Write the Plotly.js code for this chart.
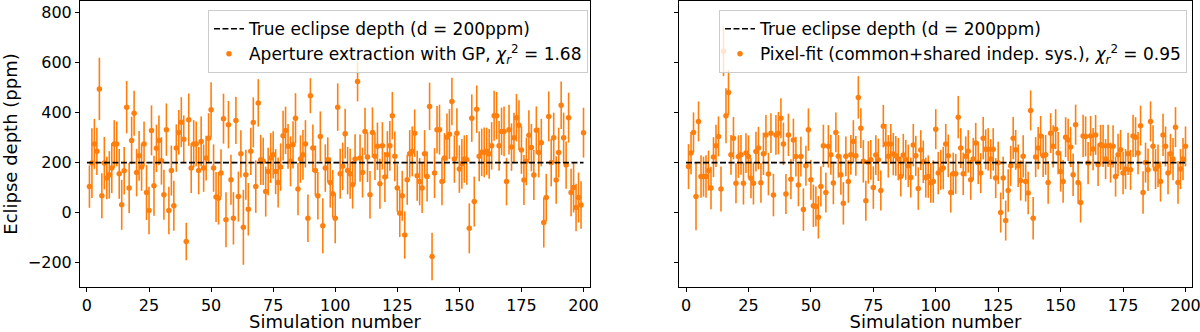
<!DOCTYPE html>
<html>
<head>
<meta charset="utf-8">
<script src="https://cdn.plot.ly/plotly-3.0.1.min.js"></script>
<style>
  html, body { margin: 0; padding: 0; background: #fff; }
  #plot { width: 1200px; height: 332px; }
</style>
</head>
<body>
<div id="plot"></div>
<script>
// depth values (ppm), simulation 1..200
var trueDepth = 200;

var apertureDepth = [
  104, 198, 275, 245, 495, 67, 198, 138, 151, 178,
  275, 275, 155, 31, 167, 422, 98, 289, 398, 160,
  227, 182, 275, 80, 8, 329, 107, 257, 289, 207,
  71, 332, 8, 168, 27, 258, 321, 362, 294, -116,
  372, 178, 275, 275, 168, 285, 178, 218, 298, 412,
  178, 62, 57, 158, 376, -29, 352, 131, -23, 369,
  64, 235, -59, 151, 13, 245, 361, 104, 439, 211,
  205, 84, 164, 218, 231, 164, 120, 182, 308, 329,
  265, 205, 271, 378, 94, 214, 231, 275, -23, 468,
  258, 168, 67, 305, -53, 178, 211, 120, 75, -23,
  422, 155, 185, 316, 168, 155, 111, 214, 525, 218,
  160, 325, 222, 71, 321, 225, 265, 115, 267, 142,
  231, 267, 388, 225, 98, -3, 67, -90, 131, 235,
  245, 318, 147, 124, 98, 235, 144, 425, -176, 158,
  332, 332, 124, 218, 302, 314, 445, 214, 318, 174,
  195, 214, 211, -63, 378, 44, 414, 225, 241, 241,
  245, 235, 267, 388, 388, 267, 325, 325, 124, 332,
  262, 300, 380, 350, 250, 130, 205, 310, 260, 150,
  330, 240, 280, -40, 60, 385, 200, 300, 130, 240,
  430, 300, 190, 380, 80, 100, 20, 60, 30, 320
];
var apertureErr = [
  85, 140, 100, 95, 125, 90, 105, 85, 95, 100,
  95, 90, 100, 100, 95, 105, 100, 95, 90, 95,
  100, 95, 90, 110, 95, 100, 120, 95, 100, 95,
  100, 105, 95, 100, 100, 95, 90, 100, 95, 75,
  105, 100, 95, 90, 95, 100, 95, 90, 100, 110,
  95, 100, 105, 95, 100, 110, 95, 100, 105, 95,
  100, 95, 150, 100, 105, 95, 100, 105, 95, 100,
  95, 100, 95, 100, 95, 90, 100, 95, 100, 95,
  90, 100, 95, 100, 105, 95, 100, 95, 95, 70,
  95, 100, 95, 100, 110, 95, 90, 100, 95, 100,
  95, 100, 95, 100, 95, 100, 95, 100, 80, 95,
  100, 95, 100, 95, 100, 95, 95, 100, 95, 100,
  95, 100, 95, 100, 95, 95, 100, 95, 100, 95,
  100, 95, 100, 95, 100, 95, 100, 95, 95, 100,
  95, 100, 95, 100, 95, 100, 95, 95, 100, 95,
  100, 95, 100, 100, 95, 100, 95, 100, 95, 100,
  95, 100, 95, 100, 95, 100, 95, 100, 95, 100,
  95, 100, 95, 100, 95, 100, 95, 100, 95, 100,
  95, 100, 95, 100, 95, 100, 95, 100, 95, 100,
  95, 100, 95, 100, 95, 100, 95, 100, 95, 100
];

var pixelDepth = [
  184, 238, 321, 64, 365, 144, 144, 144, 168, 98,
  222, 267, 305, 94, 646, 388, 481, 231, 298, 117,
  224, 231, 117, 238, 224, 137, 117, 244, 258, 119,
  235, 311, 154, 318, 70, 311, 318, 378, 275, 74,
  311, 133, 291, 224, 110, 224, 12, 187, 332, 131,
  27, 24, -19, 104, 267, 80, 265, 231, 118, 321,
  225, 151, 37, 225, 124, 231, 285, 227, 461, 338,
  205, 47, 201, 211, 100, 230, 211, 88, 346, 275,
  225, 275, 234, 227, 214, 144, 230, 211, 187, 140,
  270, 227, 96, 250, 203, 140, 144, 119, 124, 334,
  158, 171, 178, 275, 227, 80, 155, 155, 382, 258,
  155, 225, 245, 131, 214, 279, 199, 158, 298, 253,
  253, 214, 253, 138, 199, 0, 138, -32, 88, 187,
  298, 251, 187, 128, 225, 124, 78, 409, -23, 222,
  258, 307, 227, 231, 120, 318, 265, 334, 238, 164,
  124, 302, 291, 262, 151, 352, 120, 40, 307, 305,
  198, 307, 254, 311, 191, 271, 267, 214, 267, 200,
  265, 144, 231, 251, 158, 174, 235, 171, 307, 302,
  238, 348, 80, 200, 171, 365, 265, 174, 187, 124,
  311, 265, 158, 235, 214, 342, 120, 174, 214, 265
];
var pixelErr = [
  90, 85, 80, 135, 80, 85, 80, 85, 80, 85,
  80, 85, 80, 90, 100, 110, 90, 80, 85, 80,
  85, 80, 85, 80, 85, 80, 85, 80, 85, 80,
  85, 80, 85, 80, 85, 80, 85, 80, 85, 80,
  85, 80, 85, 80, 85, 80, 85, 80, 85, 80,
  85, 80, 85, 80, 85, 80, 85, 80, 85, 80,
  85, 80, 85, 80, 85, 80, 85, 80, 85, 80,
  85, 80, 85, 80, 85, 80, 85, 80, 85, 80,
  85, 80, 85, 80, 85, 80, 85, 80, 85, 80,
  85, 80, 85, 80, 85, 80, 85, 80, 85, 80,
  85, 80, 85, 80, 85, 80, 85, 80, 85, 80,
  85, 80, 85, 80, 85, 80, 85, 80, 85, 80,
  85, 80, 85, 80, 85, 80, 85, 80, 85, 80,
  85, 80, 85, 80, 85, 80, 85, 80, 85, 80,
  85, 80, 85, 80, 85, 80, 85, 80, 85, 80,
  85, 80, 85, 80, 85, 80, 85, 80, 85, 80,
  85, 80, 85, 80, 85, 80, 85, 80, 85, 80,
  85, 80, 85, 80, 85, 80, 85, 80, 85, 80,
  85, 80, 85, 80, 85, 80, 85, 80, 85, 80,
  85, 80, 85, 80, 85, 80, 85, 80, 85, 80
];

var sims = apertureDepth.map(function (d, i) { return i + 1; });
var lineX = [0, 200];
var lineY = [trueDepth, trueDepth];

var orange = "#ff7f0e";
var font = "DejaVu Sans, sans-serif";

function pointsTrace(y, err, name, xa, ya, leg) {
  return {
    x: sims, y: y,
    xaxis: xa, yaxis: ya,
    type: "scatter", mode: "markers",
    name: name,
    legend: leg, legendrank: 2,
    marker: {color: orange, size: 5.5},
    error_y: {type: "data", array: err, visible: true, color: orange, thickness: 1.6, width: 0}
  };
}
function lineTrace(xa, ya, leg) {
  return {
    x: lineX, y: lineY,
    xaxis: xa, yaxis: ya,
    type: "scatter", mode: "lines",
    name: "True eclipse depth (d = 200ppm)",
    legend: leg, legendrank: 1,
    line: {color: "black", width: 1.6, dash: "6px,2.5px"}
  };
}

var traces = [
  pointsTrace(apertureDepth, apertureErr, "Aperture extraction with GP, <i>χ</i><sub><i>r</i></sub><sup>2</sup> = 1.68", "x", "y", "legend"),
  lineTrace("x", "y", "legend"),
  pointsTrace(pixelDepth, pixelErr, "Pixel-fit (common+shared indep. sys.), <i>χ</i><sub><i>r</i></sub><sup>2</sup> = 0.95", "x2", "y2", "legend2"),
  lineTrace("x2", "y2", "legend2")
];

var xBase = {
  range: [-2.8, 202.6],
  tickvals: [0, 25, 50, 75, 100, 125, 150, 175, 200],
  ticks: "outside", ticklen: 4, tickwidth: 1, tickcolor: "black",
  ticklabeloverflow: "allow",
  showline: true, mirror: true, linecolor: "black", linewidth: 1,
  showgrid: false, zeroline: false,
  tickfont: {size: 16, color: "black"},
  title: {text: "Simulation number", font: {size: 18, color: "black"}, standoff: 3}
};
var yBase = {
  range: [-298, 847],
  tickvals: [-200, 0, 200, 400, 600, 800],
  ticktext: ["\u2212200", "0", "200", "400", "600", "800"],
  ticks: "outside", ticklen: 4, tickwidth: 1, tickcolor: "black",
  showline: true, mirror: true, linecolor: "black", linewidth: 1,
  showgrid: false, zeroline: false,
  tickfont: {size: 16, color: "black"}
};
var legBase = {
  yanchor: "top", y: 0.968, xanchor: "right",
  bgcolor: "rgba(255,255,255,0.8)", bordercolor: "#cccccc", borderwidth: 1,
  font: {size: 17, color: "black"}
};

var layout = {
  width: 1200, height: 332,
  margin: {l: 80, r: 8, t: 1, b: 45},
  paper_bgcolor: "white", plot_bgcolor: "white",
  font: {family: font, color: "black"},
  xaxis: Object.assign({}, xBase, {domain: [0, 0.4586], anchor: "y"}),
  xaxis2: Object.assign({}, xBase, {domain: [0.5387, 1], anchor: "y2"}),
  yaxis: Object.assign({}, yBase, {anchor: "x",
    title: {text: "Eclipse depth (ppm)", font: {size: 18, color: "black"}, standoff: 5}}),
  yaxis2: Object.assign({}, yBase, {anchor: "x2", matches: "y", showticklabels: false}),
  legend: Object.assign({}, legBase, {x: 0.4568}),
  legend2: Object.assign({}, legBase, {x: 0.9955}),
  showlegend: true
};

Plotly.newPlot("plot", traces, layout, {displayModeBar: false, staticPlot: true});
</script>
</body>
</html>
